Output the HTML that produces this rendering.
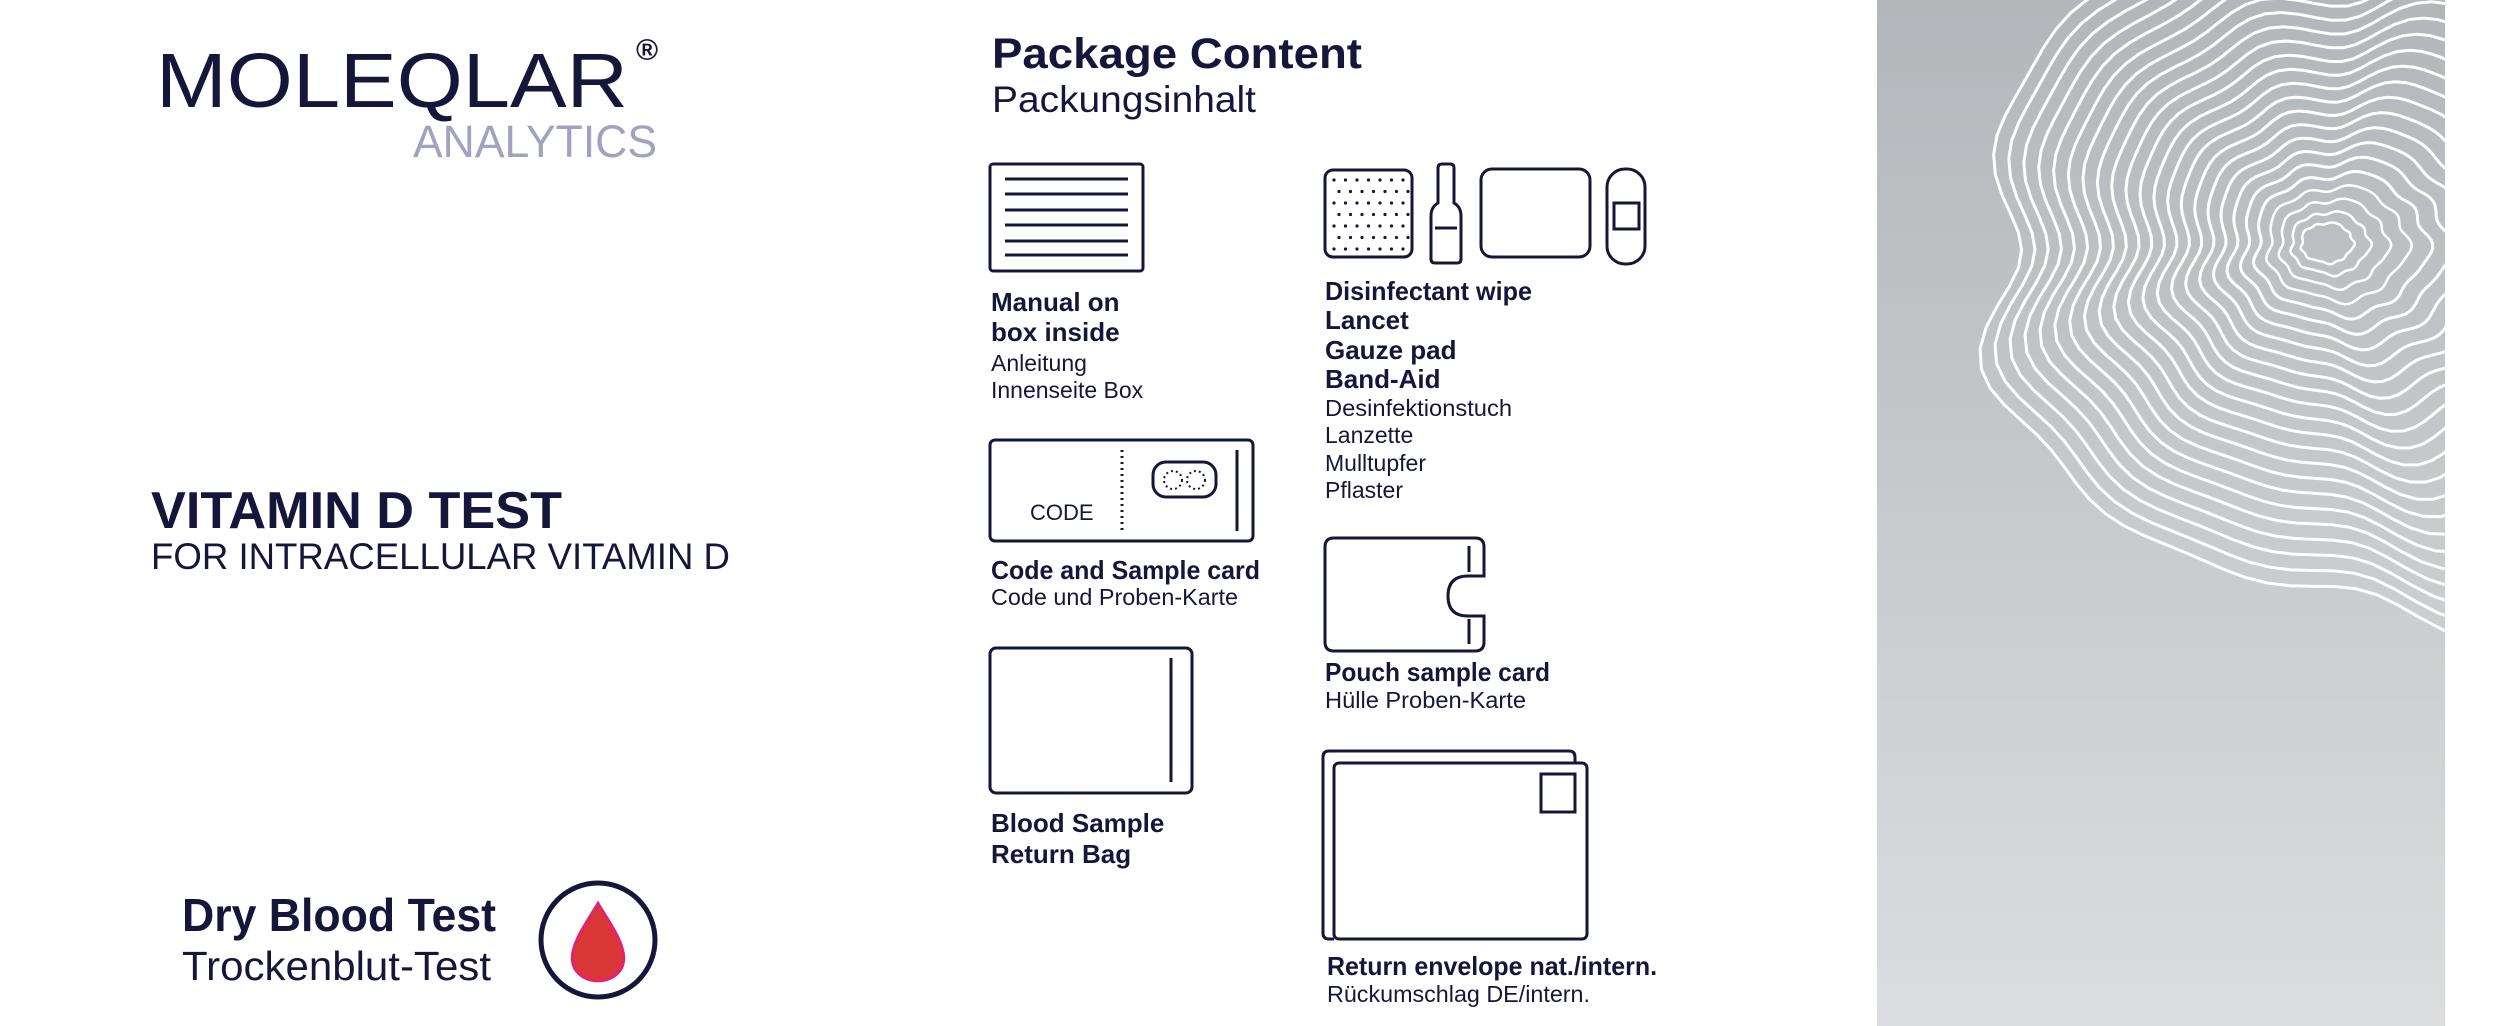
<!DOCTYPE html>
<html><head><meta charset="utf-8"><style>
html,body{margin:0;padding:0;background:#fff;width:2508px;height:1026px;overflow:hidden}
svg{display:block}
text{font-family:"Liberation Sans",sans-serif;fill:#14173a}
.b{font-weight:bold}
</style></head><body>
<svg id="s" width="2508" height="1026" viewBox="0 0 2508 1026" xmlns="http://www.w3.org/2000/svg">
<defs>
<linearGradient id="g" x1="0" y1="0" x2="0" y2="1">
<stop offset="0" stop-color="#b3b6ba"/><stop offset="1" stop-color="#dcdde0"/>
</linearGradient>
<clipPath id="cp"><rect x="1877" y="0" width="568" height="1026"/></clipPath>
</defs>
<rect x="1877" y="0" width="568" height="1026" fill="url(#g)"/>
<g id="rings" clip-path="url(#cp)" fill="none" stroke="#fff" stroke-width="3"></g>

<!-- Left -->
<text x="156" y="107" font-size="77" textLength="472" lengthAdjust="spacingAndGlyphs">MOLEQLAR</text>
<text x="636" y="60" font-size="30" class="b">®</text>
<text x="413" y="157" font-size="45" textLength="244" lengthAdjust="spacingAndGlyphs" style="fill:#a0a3bf">ANALYTICS</text>
<text x="151" y="528" font-size="52" class="b" textLength="411" lengthAdjust="spacingAndGlyphs">VITAMIN D TEST</text>
<text x="151" y="569" font-size="37" textLength="579" lengthAdjust="spacingAndGlyphs">FOR INTRACELLULAR VITAMIN D</text>
<text x="182" y="931" font-size="46" class="b" textLength="314" lengthAdjust="spacingAndGlyphs">Dry Blood Test</text>
<text x="182" y="980" font-size="41" textLength="309" lengthAdjust="spacingAndGlyphs">Trockenblut-Test</text>
<circle cx="598" cy="940" r="57" fill="none" stroke="#14173a" stroke-width="5"/>
<path d="M598 903 C610 923 624 942 624 958 C624 972 612 981 598 981 C584 981 572 972 572 958 C572 942 586 923 598 903 Z" fill="#d93636" stroke="#e0207f" stroke-width="2.5"/>

<!-- Package content -->
<text x="992" y="68" font-size="43" class="b" textLength="370" lengthAdjust="spacingAndGlyphs">Package Content</text>
<text x="992" y="112" font-size="37" textLength="264" lengthAdjust="spacingAndGlyphs">Packungsinhalt</text>

<g fill="none" stroke="#14173a" stroke-width="3">
<rect x="990" y="164" width="153" height="107" rx="3"/>
<path d="M1005 179H1128M1005 194H1128M1005 210H1128M1005 225H1128M1005 241H1128M1005 255H1128"/>
<rect x="990" y="440" width="263" height="101" rx="5"/>
<path d="M1122 450V531" stroke-dasharray="2 4"/>
<rect x="1153" y="462" width="63" height="35" rx="13"/>
<circle cx="1173" cy="480" r="9" stroke-width="2" stroke-dasharray="2 3"/>
<circle cx="1196" cy="480" r="9" stroke-width="2" stroke-dasharray="2 3"/>
<path d="M1237 450V531"/>
<rect x="990" y="648" width="202" height="145" rx="6"/>
<path d="M1171 658V782"/>
<rect x="1325" y="170" width="87" height="87" rx="8"/>
<path d="M1438 203V168Q1438 164 1442 164H1450Q1454 164 1454 168V203Q1461 207 1461 216V259Q1461 263 1457 263H1435Q1431 263 1431 259V216Q1431 207 1438 203Z"/>
<path d="M1435 228H1457"/>
<rect x="1481" y="169" width="109" height="88" rx="11"/>
<rect x="1607" y="169" width="38" height="95" rx="18"/>
<rect x="1614" y="203" width="25" height="26"/>
<path d="M1484 576V547Q1484 538 1475 538H1334Q1325 538 1325 547V642Q1325 651 1334 651H1475Q1484 651 1484 642V616H1468Q1448 616 1448 596Q1448 576 1468 576Z"/>
<path d="M1469 546V572M1469 619V644"/>
<path d="M1334 939H1329Q1323 939 1323 933V757Q1323 751 1329 751H1569Q1575 751 1575 757V763"/>
<rect x="1334" y="763" width="253" height="176" rx="5" fill="#fff"/>
<rect x="1541" y="774" width="34" height="38"/>
</g>
<g id="dots" fill="#14173a"></g>

<g font-size="25">
<text x="991" y="311" class="b" font-size="26">Manual on</text>
<text x="991" y="341" class="b" font-size="26">box inside</text>
<text x="991" y="371" font-size="23">Anleitung</text>
<text x="991" y="398" font-size="23">Innenseite Box</text>
<text x="1030" y="520" font-size="22">CODE</text>
<text x="991" y="579" class="b" font-size="26" textLength="269" lengthAdjust="spacingAndGlyphs">Code and Sample card</text>
<text x="991" y="605" font-size="23" textLength="247" lengthAdjust="spacingAndGlyphs">Code und Proben-Karte</text>
<text x="991" y="832" class="b" font-size="26">Blood Sample</text>
<text x="991" y="863" class="b" font-size="26">Return Bag</text>
<text x="1325" y="300" class="b" font-size="26" textLength="207" lengthAdjust="spacingAndGlyphs">Disinfectant wipe</text>
<text x="1325" y="329" class="b" font-size="26">Lancet</text>
<text x="1325" y="359" class="b" font-size="26">Gauze pad</text>
<text x="1325" y="388" class="b" font-size="26">Band-Aid</text>
<text x="1325" y="416" font-size="23" textLength="187" lengthAdjust="spacingAndGlyphs">Desinfektionstuch</text>
<text x="1325" y="443" font-size="23">Lanzette</text>
<text x="1325" y="471" font-size="23">Mulltupfer</text>
<text x="1325" y="498" font-size="23">Pflaster</text>
<text x="1325" y="681" class="b" font-size="26" textLength="225" lengthAdjust="spacingAndGlyphs">Pouch sample card</text>
<text x="1325" y="708" font-size="23" textLength="201" lengthAdjust="spacingAndGlyphs">Hülle Proben-Karte</text>
<text x="1327" y="975" class="b" font-size="26" textLength="330" lengthAdjust="spacingAndGlyphs">Return envelope nat./intern.</text>
<text x="1327" y="1002" font-size="23" textLength="263" lengthAdjust="spacingAndGlyphs">Rückumschlag DE/intern.</text>
</g>
</svg>
<script>
(function(){
var NS="http://www.w3.org/2000/svg";
var d=document.getElementById("dots");
for(var r=0;r<7;r++)for(var c=0;c<7;c++){
 var e=document.createElementNS(NS,"circle");
 e.setAttribute("cx",1334+c*11.5+(r%2?5:0));e.setAttribute("cy",180+r*11.5);e.setAttribute("r",1.6);d.appendChild(e);}
var g=document.getElementById("rings");
var N=24;
for(var i=0;i<N;i++){
 var t=i/(N-1), tt=Math.pow(t,1.1);
 var cx=2327+93*tt, cy=243+7*tt;
 var rx=26+410*tt, ry=20+345*tt;
 var pts=[];
 for(var k=0;k<=120;k++){
  var a=k/120*Math.PI*2;
  var w=1+0.04*Math.sin(5*a+1.3)+0.03*Math.sin(9*a+0.4+t)+0.02*Math.sin(13*a+2);
  pts.push((cx+rx*w*Math.cos(a)).toFixed(1)+","+(cy+ry*w*Math.sin(a)).toFixed(1));
 }
 var p=document.createElementNS(NS,"polygon");
 p.setAttribute("points",pts.join(" "));
 p.setAttribute("stroke-width",i<4?2.5:3);
 g.appendChild(p);
}
})();
</script>
</body></html>
